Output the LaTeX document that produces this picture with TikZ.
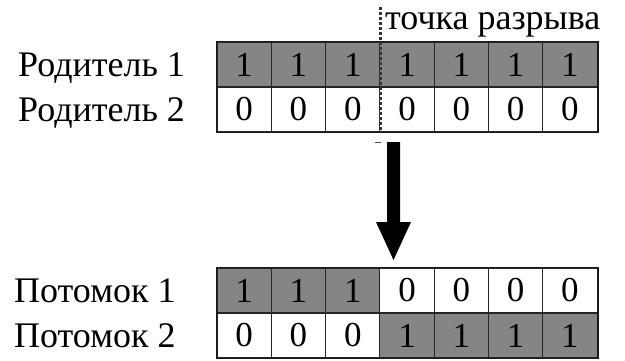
\documentclass[tikz,border=0pt]{standalone}
\usepackage{fontspec}
\setmainfont{Liberation Serif}
\usetikzlibrary{calc}
\begin{document}
\begin{tikzpicture}[x=1pt,y=-1pt,
  cell/.style={draw=black!85, line width=1.1pt, minimum width=54.3pt,
    minimum height=45pt, inner sep=0pt, anchor=center,
    font=\fontsize{35}{35}\selectfont},
  bit1/.style={cell, fill=black!48},
  bit0/.style={cell, fill=white},
  lbl/.style={anchor=base west, inner sep=0pt, font=\fontsize{36}{36}\selectfont},
  frame/.style={draw=black!90, line width=1.8pt},
  cutdot/.style={fill=black!80, draw=none},
  bigarrow/.style={fill=black, draw=none}]
\useasboundingbox (0,0) rectangle (625,360);

% chromosome rows: name / centre y / genes
\foreach \nm/\yc/\bits in {p1/64.5/{1,1,1,1,1,1,1},
                           p2/109.5/{0,0,0,0,0,0,0},
                           c1/290.5/{1,1,1,0,0,0,0},
                           c2/335.5/{0,0,0,1,1,1,1}}{
  \foreach \b [count=\i] in \bits {
    \node[bit\b] (\nm-\i) at ({189.85+54.3*\i},\yc) {\b};
  }
}

% outer frames
\draw[frame] (p1-1.north west) rectangle (p2-7.south east);
\draw[frame] (c1-1.north west) rectangle (c2-7.south east);

% row labels
\node[lbl] (lp1) at (18,76.5) {Родитель 1};
\node[lbl] (lp2) at (18,121.5) {Родитель 2};
\node[lbl] (lc1) at (14,302.5) {Потомок 1};
\node[lbl] (lc2) at (14,347.5) {Потомок 2};

% crossover point: a dotted cut line between genes 3 and 4
\coordinate (cuttop) at ($(p1-3.north east)+(0,-34)$);
\coordinate (cutbot) at (p2-3.south east);
\foreach \k in {0,...,24} {
  \fill[cutdot] ($(cuttop)+(-1.6,5*\k)$) rectangle ++(3.2,3);
}
\draw[draw=black!70, line width=1pt] ($(cutbot)+(-5,10)$) -- ($(cutbot)+(1,10)$);
\node[lbl] (cutlbl) at (385,29) {точка разрыва};

% transition arrow
\coordinate (atop) at (393.5,142);
\coordinate (atip) at (393.5,260);
\fill[bigarrow] ($(atop)+(-6.5,0)$) -- ($(atop)+(6.5,0)$) -- ($(atop)+(6.5,80)$)
  -- ($(atop)+(17.5,80)$) -- (atip) -- ($(atop)+(-17.5,80)$)
  -- ($(atop)+(-6.5,80)$) -- cycle;
\end{tikzpicture}
\end{document}
